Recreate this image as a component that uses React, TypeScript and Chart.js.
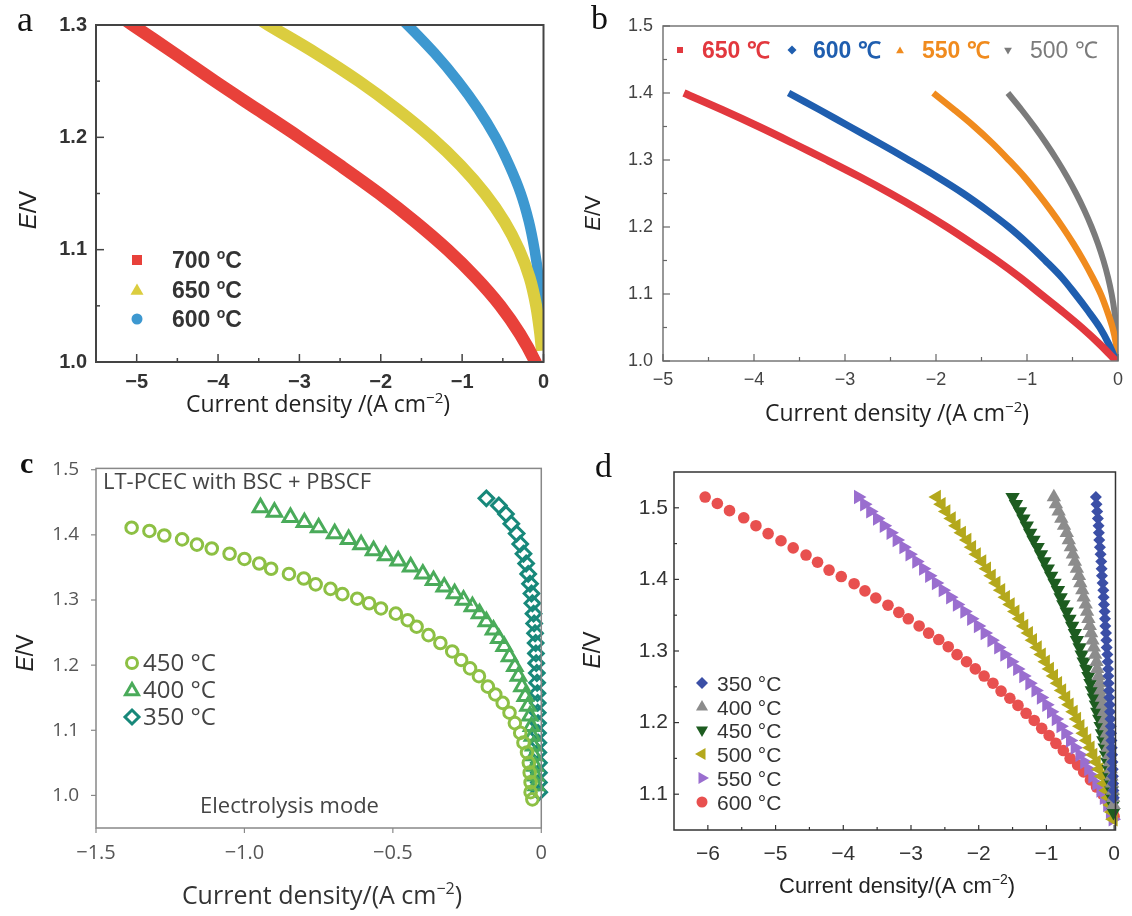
import React, { useEffect, useRef } from "react";
import { Chart, registerables } from "chart.js";
Chart.register(...registerables);

const SANS = "'Liberation Sans', Arial, sans-serif";
const NARROW = "'Liberation Sans Narrow', 'Liberation Sans', Arial, sans-serif";
const OPEN = "'Open Sans', 'Liberation Sans', sans-serif";
const SERIF = "'Liberation Serif', 'Times New Roman', serif";
const MINUS = "\u2212";

// ---------------- Panel a data ----------------
const A_700_X = [-5.25, -5.05, -4.54, -4.04, -3.52, -3.0, -2.5, -2.02, -1.58, -1.18, -0.83, -0.53, -0.29, -0.1, -0.06];
const A_700_E = [1.31, 1.3, 1.275, 1.25, 1.225, 1.2, 1.175, 1.15, 1.125, 1.1, 1.075, 1.05, 1.025, 1.0, 0.99];
const A_650_X = [-3.6, -3.38, -2.8, -2.27, -1.8, -1.38, -1.02, -0.72, -0.48, -0.3, -0.17, -0.09, -0.04, -0.02];
const A_650_E = [1.31, 1.3, 1.275, 1.25, 1.225, 1.2, 1.175, 1.15, 1.125, 1.1, 1.075, 1.05, 1.025, 1.01];
const A_600_X = [-1.82, -1.67, -1.34, -1.05, -0.8, -0.59, -0.42, -0.28, -0.18, -0.11, -0.06, -0.03, -0.01];
const A_600_E = [1.31, 1.3, 1.275, 1.25, 1.225, 1.2, 1.175, 1.15, 1.125, 1.1, 1.075, 1.05, 1.03];
const A_X_TICKS = [-5, -4, -3, -2, -1, 0];
const A_X_MINOR = [-4.5, -3.5, -2.5, -1.5, -0.5];
const A_Y_TICKS = [1.0, 1.1, 1.2, 1.3];
const A_Y_MINOR = [1.05, 1.15, 1.25];

// ---------------- Panel b data ----------------
const B_E = [1.4, 1.375, 1.35, 1.325, 1.3, 1.275, 1.25, 1.225, 1.2, 1.175, 1.15, 1.125, 1.1, 1.075, 1.05, 1.025, 1.0];
const B_650_X = [-4.77, -4.35, -3.95, -3.57, -3.2, -2.84, -2.5, -2.18, -1.88, -1.6, -1.33, -1.08, -0.85, -0.62, -0.4, -0.2, -0.02];
const B_600_X = [-3.62, -3.28, -2.95, -2.62, -2.3, -1.99, -1.7, -1.44, -1.2, -0.99, -0.8, -0.62, -0.47, -0.33, -0.2, -0.1, -0.02];
const B_550_X = [-2.03, -1.8, -1.58, -1.38, -1.2, -1.03, -0.88, -0.74, -0.61, -0.49, -0.38, -0.28, -0.19, -0.12, -0.06, -0.02, 0];
const B_500_X = [-1.21, -1.06, -0.92, -0.79, -0.67, -0.56, -0.46, -0.37, -0.29, -0.22, -0.16, -0.11, -0.07, -0.04, -0.02, -0.01, 0];
const B_X_TICKS = [-5, -4, -3, -2, -1, 0];
const B_X_MINOR = [-4.5, -3.5, -2.5, -1.5, -0.5];
const B_Y_TICKS = [1.0, 1.1, 1.2, 1.3, 1.4, 1.5];
const B_Y_MINOR = [1.05, 1.15, 1.25, 1.35, 1.45];

// ---------------- Panel c data ----------------
const C_450_X = [-1.38, -1.32, -1.27, -1.21, -1.16, -1.11, -1.05, -1.0, -0.95, -0.91, -0.85, -0.8, -0.76, -0.71, -0.67, -0.62, -0.58, -0.54, -0.49, -0.45, -0.42, -0.38, -0.34, -0.3, -0.27, -0.24, -0.21, -0.18, -0.155, -0.13, -0.107, -0.089, -0.071, -0.06, -0.048, -0.042, -0.039, -0.036, -0.036, -0.03];
const C_450_E = [1.411, 1.406, 1.399, 1.393, 1.385, 1.379, 1.371, 1.363, 1.356, 1.348, 1.34, 1.333, 1.324, 1.317, 1.309, 1.302, 1.295, 1.287, 1.279, 1.269, 1.259, 1.246, 1.234, 1.221, 1.208, 1.195, 1.183, 1.167, 1.155, 1.142, 1.127, 1.111, 1.096, 1.081, 1.066, 1.05, 1.035, 1.02, 1.005, 0.994];
const C_400_X = [-0.946, -0.899, -0.845, -0.798, -0.75, -0.696, -0.649, -0.607, -0.565, -0.524, -0.482, -0.44, -0.399, -0.363, -0.327, -0.292, -0.262, -0.232, -0.208, -0.185, -0.161, -0.143, -0.125, -0.107, -0.089, -0.077, -0.065, -0.054, -0.045, -0.038, -0.033, -0.03, -0.026, -0.024, -0.021, -0.019, -0.017];
const C_400_E = [1.442, 1.435, 1.427, 1.419, 1.411, 1.402, 1.393, 1.385, 1.376, 1.368, 1.36, 1.351, 1.34, 1.33, 1.32, 1.31, 1.3, 1.29, 1.279, 1.267, 1.254, 1.241, 1.229, 1.213, 1.198, 1.183, 1.167, 1.152, 1.137, 1.122, 1.106, 1.091, 1.076, 1.061, 1.045, 1.03, 1.015];
const C_350_X = [-0.185, -0.143, -0.119, -0.101, -0.083, -0.071, -0.06, -0.051, -0.044, -0.038, -0.033, -0.03, -0.026, -0.024, -0.021, -0.019, -0.018, -0.017, -0.015, -0.014, -0.013, -0.012, -0.012, -0.011, -0.011, -0.01, -0.01, -0.008, -0.008, -0.008, -0.007];
const C_350_E = [1.456, 1.445, 1.432, 1.417, 1.402, 1.386, 1.371, 1.356, 1.34, 1.325, 1.31, 1.295, 1.279, 1.264, 1.249, 1.234, 1.218, 1.203, 1.188, 1.173, 1.157, 1.142, 1.127, 1.111, 1.096, 1.081, 1.066, 1.05, 1.035, 1.02, 1.005];
const C_X_TICKS = [-1.5, -1.0, -0.5, 0];
const C_Y_TICKS = [1.0, 1.1, 1.2, 1.3, 1.4, 1.5];

// ---------------- Panel d data ----------------
const D_E = [1.515, 1.505, 1.495, 1.485, 1.475, 1.465, 1.455, 1.445, 1.435, 1.425, 1.415, 1.405, 1.395, 1.385, 1.375, 1.365, 1.355, 1.345, 1.335, 1.325, 1.315, 1.305, 1.295, 1.285, 1.275, 1.265, 1.255, 1.245, 1.235, 1.225, 1.215, 1.205, 1.195, 1.185, 1.175, 1.165, 1.155, 1.145, 1.135, 1.125, 1.115, 1.105, 1.095, 1.085, 1.075, 1.065];
const D_350_X = [-0.27, -0.26, -0.25, -0.24, -0.23, -0.225, -0.22, -0.21, -0.2, -0.19, -0.185, -0.18, -0.17, -0.16, -0.155, -0.15, -0.14, -0.135, -0.13, -0.12, -0.115, -0.11, -0.1, -0.095, -0.09, -0.085, -0.08, -0.075, -0.07, -0.065, -0.06, -0.055, -0.05, -0.045, -0.04, -0.035, -0.03, -0.025, -0.02, -0.018, -0.015, -0.01, -0.005];
const D_400_X = [-0.89, -0.86, -0.82, -0.78, -0.74, -0.7, -0.67, -0.64, -0.61, -0.58, -0.55, -0.52, -0.5, -0.47, -0.45, -0.42, -0.4, -0.38, -0.36, -0.34, -0.32, -0.3, -0.28, -0.26, -0.25, -0.23, -0.21, -0.2, -0.18, -0.17, -0.15, -0.14, -0.12, -0.11, -0.1, -0.09, -0.07, -0.06, -0.05, -0.04, -0.03, -0.02, -0.015, -0.01];
const D_450_X = [-1.5, -1.45, -1.39, -1.34, -1.29, -1.24, -1.19, -1.13, -1.08, -1.03, -0.98, -0.93, -0.88, -0.83, -0.79, -0.75, -0.7, -0.66, -0.62, -0.58, -0.55, -0.51, -0.48, -0.45, -0.41, -0.38, -0.35, -0.33, -0.3, -0.27, -0.25, -0.22, -0.2, -0.18, -0.16, -0.14, -0.12, -0.1, -0.08, -0.07, -0.05, -0.04, -0.03, -0.02, -0.01];
const D_500_X = [-2.62, -2.55, -2.48, -2.4, -2.33, -2.25, -2.17, -2.1, -2.03, -1.95, -1.88, -1.81, -1.74, -1.67, -1.6, -1.53, -1.46, -1.39, -1.33, -1.26, -1.2, -1.13, -1.07, -1.01, -0.95, -0.89, -0.83, -0.77, -0.71, -0.66, -0.6, -0.55, -0.5, -0.45, -0.4, -0.35, -0.31, -0.26, -0.22, -0.18, -0.14, -0.11, -0.08, -0.05, -0.03, -0.01];
const D_550_X = [-3.78, -3.69, -3.6, -3.5, -3.4, -3.3, -3.21, -3.11, -3.02, -2.92, -2.82, -2.73, -2.63, -2.53, -2.42, -2.32, -2.21, -2.11, -2.01, -1.91, -1.81, -1.71, -1.62, -1.52, -1.43, -1.34, -1.25, -1.16, -1.08, -1.0, -0.93, -0.86, -0.79, -0.72, -0.65, -0.58, -0.51, -0.44, -0.38, -0.32, -0.26, -0.2, -0.15, -0.1, -0.06, -0.02];
const D_600_X = [-6.04, -5.86, -5.68, -5.47, -5.29, -5.11, -4.92, -4.74, -4.55, -4.38, -4.21, -4.03, -3.84, -3.68, -3.52, -3.34, -3.18, -3.04, -2.88, -2.74, -2.59, -2.45, -2.32, -2.18, -2.05, -1.92, -1.79, -1.67, -1.54, -1.42, -1.3, -1.18, -1.07, -0.96, -0.86, -0.75, -0.65, -0.54, -0.45, -0.35, -0.26, -0.17, -0.09, -0.03, 0.0];
const D_600_E = [1.515, 1.506, 1.496, 1.486, 1.475, 1.464, 1.454, 1.444, 1.434, 1.424, 1.413, 1.404, 1.394, 1.384, 1.374, 1.364, 1.354, 1.345, 1.335, 1.325, 1.316, 1.306, 1.295, 1.285, 1.275, 1.265, 1.255, 1.244, 1.234, 1.224, 1.213, 1.203, 1.192, 1.182, 1.171, 1.161, 1.15, 1.141, 1.131, 1.12, 1.11, 1.1, 1.089, 1.079, 1.069];
const D_X_TICKS = [-6, -5, -4, -3, -2, -1, 0];
const D_X_MINOR = [-5.5, -4.5, -3.5, -2.5, -1.5, -0.5];
const D_Y_TICKS = [1.1, 1.2, 1.3, 1.4, 1.5];
const D_Y_MINOR = [1.15, 1.25, 1.35, 1.45];

// ---------------- helpers ----------------
type Run = { t: string; font: string; dy?: number };
type TextItem = { runs: Run[]; x: number; y: number; color: string; align?: "left" | "center" | "right"; rotate?: boolean };
type Marker = { style: string; r: number; color: string; fill: boolean; lw?: number; rot?: number };
type LegendItem = { marker: Marker; mx: number; my: number; runs: Run[]; tx: number; ty: number; color: string };

const pairs = (xs: number[], ys: number[]) => xs.map((x, i) => ({ x, y: ys[i] }));
const fmtInt = (v: number) => (v === 0 ? "0" : (v < 0 ? MINUS : "") + Math.abs(v).toString());
const fmtDec = (v: number) => (v === 0 ? "0" : (v < 0 ? MINUS : "") + Math.abs(v).toFixed(1));
const fmtY = (v: number) => v.toFixed(1);

function drawRuns(ctx: CanvasRenderingContext2D, runs: Run[], x: number, y: number, align: string, color: string, rotate?: boolean) {
  ctx.save();
  ctx.fillStyle = color;
  ctx.textBaseline = "alphabetic";
  ctx.textAlign = "left";
  let total = 0;
  const widths: number[] = [];
  runs.forEach((r) => {
    ctx.font = r.font;
    const w = ctx.measureText(r.t).width;
    widths.push(w);
    total += w;
  });
  ctx.translate(x, y);
  if (rotate) ctx.rotate(-Math.PI / 2);
  let cx = align === "center" ? -total / 2 : align === "right" ? -total : 0;
  runs.forEach((r, i) => {
    ctx.font = r.font;
    ctx.fillText(r.t, cx, r.dy || 0);
    cx += widths[i];
  });
  ctx.restore();
}

function drawMarker(ctx: CanvasRenderingContext2D, m: Marker, x: number, y: number) {
  ctx.save();
  ctx.translate(x, y);
  const rad0 = ((m.rot || 0) * Math.PI) / 180;
  ctx.beginPath();
  if (m.style === "circle") ctx.arc(0, 0, m.r, 0, Math.PI * 2);
  else if (m.style === "rect") ctx.rect(-m.r, -m.r, m.r * 2, m.r * 2);
  else if (m.style === "diamond") {
    ctx.moveTo(0, -m.r);
    ctx.lineTo(m.r, 0);
    ctx.lineTo(0, m.r);
    ctx.lineTo(-m.r, 0);
    ctx.closePath();
  } else {
    for (let i = 0; i < 3; i++) {
      const a = rad0 + (i * 2 * Math.PI) / 3;
      const px = Math.sin(a) * m.r;
      const py = -Math.cos(a) * m.r;
      if (i === 0) ctx.moveTo(px, py);
      else ctx.lineTo(px, py);
    }
    ctx.closePath();
  }
  if (m.fill) {
    ctx.fillStyle = m.color;
    ctx.fill();
  } else {
    ctx.strokeStyle = m.color;
    ctx.lineWidth = m.lw || 2;
    ctx.stroke();
  }
  ctx.restore();
}

type AxisCfg = { min: number; max: number; ticks: number[]; minor: number[]; fmt: (v: number) => string; font: any; color: string; padding: number };
type PanelCfg = {
  ox: number; oy: number; w: number; h: number;
  L: number; T: number; R: number; B: number;
  datasets: any[];
  x: AxisCfg; y: AxisCfg;
  frameColor: string; frameWidth: number;
  tickColor: string; tickWidth: number; tickDir: "in" | "out";
  majorLen: number; minorLen: number;
  texts: TextItem[];
  legend: LegendItem[];
};

function makeDecor(p: PanelCfg) {
  return {
    id: "decor",
    afterDatasetsDraw(chart: any) {
      const ctx: CanvasRenderingContext2D = chart.ctx;
      const ca = chart.chartArea;
      const xs = chart.scales.x;
      const ys = chart.scales.y;
      ctx.save();
      ctx.strokeStyle = p.frameColor;
      ctx.lineWidth = p.frameWidth;
      ctx.strokeRect(ca.left, ca.top, ca.right - ca.left, ca.bottom - ca.top);
      ctx.strokeStyle = p.tickColor;
      ctx.lineWidth = p.tickWidth;
      const dir = p.tickDir === "out" ? -1 : 1;
      const drawTicks = (vals: number[], len: number, isX: boolean) => {
        vals.forEach((v) => {
          ctx.beginPath();
          if (isX) {
            const px = xs.getPixelForValue(v);
            ctx.moveTo(px, ca.bottom);
            ctx.lineTo(px, ca.bottom - dir * len);
          } else {
            const py = ys.getPixelForValue(v);
            ctx.moveTo(ca.left, py);
            ctx.lineTo(ca.left + dir * len, py);
          }
          ctx.stroke();
        });
      };
      drawTicks(p.x.ticks, p.majorLen, true);
      drawTicks(p.x.minor, p.minorLen, true);
      drawTicks(p.y.ticks, p.majorLen, false);
      drawTicks(p.y.minor, p.minorLen, false);
      p.texts.forEach((t) => drawRuns(ctx, t.runs, t.x - p.ox, t.y - p.oy, t.align || "left", t.color, t.rotate));
      p.legend.forEach((it) => {
        drawMarker(ctx, it.marker, it.mx - p.ox, it.my - p.oy);
        drawRuns(ctx, it.runs, it.tx - p.ox, it.ty - p.oy, "left", it.color);
      });
      ctx.restore();
    },
  };
}

function axis(ax: AxisCfg, size: number, isX: boolean) {
  return {
    type: "linear",
    min: ax.min,
    max: ax.max,
    afterFit: (s: any) => {
      if (isX) s.height = size;
      else s.width = size;
    },
    afterBuildTicks: (s: any) => {
      s.ticks = ax.ticks.map((v) => ({ value: v }));
    },
    grid: { display: false, drawTicks: false },
    border: { display: false },
    ticks: {
      autoSkip: false,
      maxRotation: 0,
      minRotation: 0,
      padding: ax.padding,
      color: ax.color,
      font: ax.font,
      callback: (v: any) => ax.fmt(Number(v)),
    },
  };
}

function buildConfig(p: PanelCfg): any {
  const padL = p.L - p.ox;
  const padT = p.T - p.oy;
  const padR = p.ox + p.w - p.R;
  const padB = p.oy + p.h - p.B;
  return {
    type: "scatter",
    data: { datasets: p.datasets },
    options: {
      animation: false,
      responsive: false,
      devicePixelRatio: 1,
      events: [],
      layout: { padding: { left: 0, top: padT, right: padR, bottom: 0 } },
      plugins: { legend: { display: false }, tooltip: { enabled: false }, title: { display: false } },
      scales: { x: axis(p.x, padB, true), y: axis(p.y, padL, false) },
    },
    plugins: [makeDecor(p)],
  };
}

const band = (data: any[], color: string, width: number) => ({
  data,
  showLine: true,
  borderColor: color,
  borderWidth: width,
  pointRadius: 0,
  tension: 0.35,
  fill: false,
  borderCapStyle: "butt",
  borderJoinStyle: "round",
});

const pts = (data: any[], color: string, style: string, r: number, fill: boolean, rot = 0, lw = 2.5) => ({
  data,
  showLine: false,
  pointStyle: style,
  pointRadius: r,
  pointRotation: rot,
  pointBackgroundColor: fill ? color : "rgba(0,0,0,0)",
  pointBorderColor: color,
  pointBorderWidth: fill ? 0 : lw,
  clip: false,
});

// ---------------- colours ----------------
const A_RED = "#e8413a";
const A_YEL = "#dbcd3f";
const A_BLU = "#3d98d0";
const B_RED = "#e2383e";
const B_BLU = "#1f5eaf";
const B_ORA = "#f08b1e";
const B_GRY = "#7b7b7b";
const C_450 = "#8dc044";
const C_400 = "#4aab5a";
const C_350 = "#17887a";
const D_350 = "#3b4fa6";
const D_400 = "#8c8c8c";
const D_450 = "#1d5c20";
const D_500 = "#b4a81c";
const D_550 = "#9a6ecf";
const D_600 = "#e8504f";

const title = (text: string, size: number, family: string, x: number, y: number, color: string): TextItem => ({
  runs: [
    { t: text, font: `${size}px ${family}` },
    { t: MINUS + "2", font: `${Math.round(size * 0.65)}px ${family}`, dy: -Math.round(size * 0.4) },
    { t: ")", font: `${size}px ${family}` },
  ],
  x,
  y,
  align: "center",
  color,
});
const eTitle = (size: number, x: number, y: number): TextItem => ({
  runs: [
    { t: "E", font: `italic ${size}px ${SANS}` },
    { t: "/V", font: `${size}px ${SANS}` },
  ],
  x,
  y,
  align: "center",
  rotate: true,
  color: "#222",
});

const PANEL_A: PanelCfg = {
  ox: 0, oy: 0, w: 560, h: 430, L: 96, T: 25, R: 543.5, B: 362,
  datasets: [band(pairs(A_700_X, A_700_E), A_RED, 12.5), band(pairs(A_650_X, A_650_E), A_YEL, 12), band(pairs(A_600_X, A_600_E), A_BLU, 10.5)],
  x: { min: -5.5, max: 0, ticks: A_X_TICKS, minor: A_X_MINOR, fmt: fmtInt, font: { family: SANS, size: 20, weight: "bold" }, color: "#333", padding: 8 },
  y: { min: 1.0, max: 1.3, ticks: A_Y_TICKS, minor: A_Y_MINOR, fmt: fmtY, font: { family: SANS, size: 20, weight: "bold" }, color: "#333", padding: 9 },
  frameColor: "#444", frameWidth: 2, tickColor: "#444", tickWidth: 1.5, tickDir: "in", majorLen: 8, minorLen: 4,
  texts: [
    { runs: [{ t: "a", font: `36px ${SERIF}` }], x: 17, y: 31, color: "#111" },
    title("Current density /(A cm", 23, OPEN, 318, 412, "#222"),
    eTitle(24, 36, 210),
  ],
  legend: [
    { marker: { style: "rect", r: 5, color: A_RED, fill: true }, mx: 137, my: 260, runs: [{ t: "700 ", font: `bold 23px ${SANS}` }, { t: "o", font: `bold 14px ${SANS}`, dy: -9 }, { t: "C", font: `bold 23px ${SANS}` }], tx: 172, ty: 268, color: "#333" },
    { marker: { style: "triangle", r: 7.5, color: A_YEL, fill: true }, mx: 137, my: 291, runs: [{ t: "650 ", font: `bold 23px ${SANS}` }, { t: "o", font: `bold 14px ${SANS}`, dy: -9 }, { t: "C", font: `bold 23px ${SANS}` }], tx: 172, ty: 298, color: "#333" },
    { marker: { style: "circle", r: 5.5, color: A_BLU, fill: true }, mx: 137, my: 319, runs: [{ t: "600 ", font: `bold 23px ${SANS}` }, { t: "o", font: `bold 14px ${SANS}`, dy: -9 }, { t: "C", font: `bold 23px ${SANS}` }], tx: 172, ty: 327, color: "#333" },
  ],
};

const PANEL_B: PanelCfg = {
  ox: 560, oy: 0, w: 572, h: 430, L: 663, T: 26, R: 1118, B: 361,
  datasets: [band(pairs(B_650_X, B_E), B_RED, 7.5), band(pairs(B_600_X, B_E), B_BLU, 7), band(pairs(B_550_X, B_E), B_ORA, 6.5), band(pairs(B_500_X, B_E), B_GRY, 6)],
  x: { min: -5, max: 0, ticks: B_X_TICKS, minor: B_X_MINOR, fmt: fmtInt, font: { family: SANS, size: 18 }, color: "#444", padding: 8 },
  y: { min: 1.0, max: 1.5, ticks: B_Y_TICKS, minor: B_Y_MINOR, fmt: fmtY, font: { family: SANS, size: 18 }, color: "#444", padding: 10 },
  frameColor: "#777", frameWidth: 1.5, tickColor: "#666", tickWidth: 1.2, tickDir: "in", majorLen: 7, minorLen: 4,
  texts: [
    { runs: [{ t: "b", font: `34px ${SERIF}` }], x: 591, y: 29, color: "#111" },
    title("Current density /(A cm", 23, OPEN, 897, 421, "#222"),
    eTitle(22, 600, 213),
  ],
  legend: [
    { marker: { style: "rect", r: 3, color: B_RED, fill: true }, mx: 680, my: 50, runs: [{ t: "650 \u2103", font: `bold 23px ${NARROW}` }], tx: 702, ty: 58, color: B_RED },
    { marker: { style: "diamond", r: 4.5, color: B_BLU, fill: true }, mx: 792, my: 50, runs: [{ t: "600 \u2103", font: `bold 23px ${NARROW}` }], tx: 813, ty: 58, color: B_BLU },
    { marker: { style: "triangle", r: 4.5, color: B_ORA, fill: true }, mx: 900, my: 51, runs: [{ t: "550 \u2103", font: `bold 23px ${NARROW}` }], tx: 922, ty: 58, color: B_ORA },
    { marker: { style: "triangle", r: 4.5, color: B_GRY, fill: true, rot: 180 }, mx: 1008, my: 50, runs: [{ t: "500 \u2103", font: `23px ${NARROW}` }], tx: 1030, ty: 58, color: B_GRY },
  ],
};

const PANEL_C: PanelCfg = {
  ox: 0, oy: 440, w: 560, h: 476, L: 96, T: 468, R: 546, B: 828,
  datasets: [
    pts(pairs(C_450_X, C_450_E), C_450, "circle", 5.8, false, 0, 3),
    pts(pairs(C_400_X, C_400_E), C_400, "triangle", 8.3, false, 0, 3),
    pts(pairs(C_350_X, C_350_E), C_350, "rectRot", 7.3, false, 0, 3),
  ],
  x: { min: -1.5, max: 0, ticks: C_X_TICKS, minor: [], fmt: fmtDec, font: { family: OPEN, size: 20 }, color: "#555", padding: 13 },
  y: { min: 0.95, max: 1.502, ticks: C_Y_TICKS, minor: [], fmt: fmtY, font: { family: OPEN, size: 19 }, color: "#555", padding: 17 },
  frameColor: "#888", frameWidth: 1.5, tickColor: "#888", tickWidth: 1.2, tickDir: "out", majorLen: 5, minorLen: 0,
  texts: [
    { runs: [{ t: "c", font: `bold 30px ${SERIF}` }], x: 20, y: 473, color: "#111" },
    { runs: [{ t: "LT-PCEC with BSC + PBSCF", font: `22px ${OPEN}` }], x: 103, y: 489, color: "#444" },
    { runs: [{ t: "Electrolysis mode", font: `22px ${OPEN}` }], x: 200, y: 813, color: "#444" },
    title("Current density/(A cm", 25, OPEN, 322, 904, "#333"),
    eTitle(23, 33, 653),
  ],
  legend: [
    { marker: { style: "circle", r: 5.5, color: C_450, fill: false, lw: 3 }, mx: 132, my: 663, runs: [{ t: "450 \u00B0C", font: `24px ${OPEN}` }], tx: 143, ty: 671, color: "#444" },
    { marker: { style: "triangle", r: 7.5, color: C_400, fill: false, lw: 3 }, mx: 132, my: 691, runs: [{ t: "400 \u00B0C", font: `24px ${OPEN}` }], tx: 143, ty: 698, color: "#444" },
    { marker: { style: "diamond", r: 7, color: C_350, fill: false, lw: 3 }, mx: 132, my: 717, runs: [{ t: "350 \u00B0C", font: `24px ${OPEN}` }], tx: 143, ty: 725, color: "#444" },
  ],
};

const dLeg = (style: string, color: string, rot: number, r: number, row: number, label: string): LegendItem => ({
  marker: { style, r, color, fill: true, rot },
  mx: 702,
  my: row,
  runs: [{ t: label, font: `21px ${SANS}` }],
  tx: 717,
  ty: row + 7.5,
  color: "#333",
});

const PANEL_D: PanelCfg = {
  ox: 560, oy: 440, w: 572, h: 476, L: 674, T: 472, R: 1125, B: 830,
  datasets: [
    pts(pairs(D_350_X, D_E), D_350, "rectRot", 6, true),
    pts(pairs(D_400_X, D_E), D_400, "triangle", 8.3, true),
    pts(pairs(D_450_X, D_E), D_450, "triangle", 8.3, true, 180),
    pts(pairs(D_500_X, D_E), D_500, "triangle", 8.3, true, 270),
    pts(pairs(D_550_X, D_E), D_550, "triangle", 8.3, true, 90),
    pts(pairs(D_600_X, D_600_E), D_600, "circle", 5.8, true),
  ],
  x: { min: -6.5, max: 0.02, ticks: D_X_TICKS, minor: D_X_MINOR, fmt: fmtInt, font: { family: SANS, size: 21 }, color: "#333", padding: 12 },
  y: { min: 1.05, max: 1.55, ticks: D_Y_TICKS, minor: D_Y_MINOR, fmt: fmtY, font: { family: SANS, size: 21 }, color: "#333", padding: 6 },
  frameColor: "#333", frameWidth: 1.5, tickColor: "#333", tickWidth: 1.2, tickDir: "in", majorLen: 5, minorLen: 3,
  texts: [
    { runs: [{ t: "d", font: `34px ${SERIF}` }], x: 595, y: 477, color: "#111" },
    title("Current density/(A cm", 22, SANS, 897, 893, "#222"),
    eTitle(23, 600, 650),
  ],
  legend: [
    dLeg("diamond", D_350, 0, 6, 683, "350 \u00B0C"),
    dLeg("triangle", D_400, 0, 7, 707, "400 \u00B0C"),
    dLeg("triangle", D_450, 180, 7, 730, "450 \u00B0C"),
    dLeg("triangle", D_500, 270, 7, 754, "500 \u00B0C"),
    dLeg("triangle", D_550, 90, 7, 778, "550 \u00B0C"),
    dLeg("circle", D_600, 0, 5.5, 802, "600 \u00B0C"),
  ],
};

function ChartPanel({ panel }: { panel: PanelCfg }) {
  const ref = useRef<HTMLCanvasElement>(null);
  useEffect(() => {
    if (!ref.current) return;
    const chart = new Chart(ref.current, buildConfig(panel));
    return () => chart.destroy();
  }, [panel]);
  return (
    <div style={{ position: "absolute", left: panel.ox, top: panel.oy, width: panel.w, height: panel.h }}>
      <canvas ref={ref} width={panel.w} height={panel.h} style={{ display: "block", width: panel.w, height: panel.h }} />
    </div>
  );
}

export default function App() {
  return (
    <div style={{ position: "absolute", left: 0, top: 0, width: 1132, height: 916, background: "#fff", overflow: "hidden" }}>
      <ChartPanel panel={PANEL_A} />
      <ChartPanel panel={PANEL_B} />
      <ChartPanel panel={PANEL_C} />
      <ChartPanel panel={PANEL_D} />
    </div>
  );
}
